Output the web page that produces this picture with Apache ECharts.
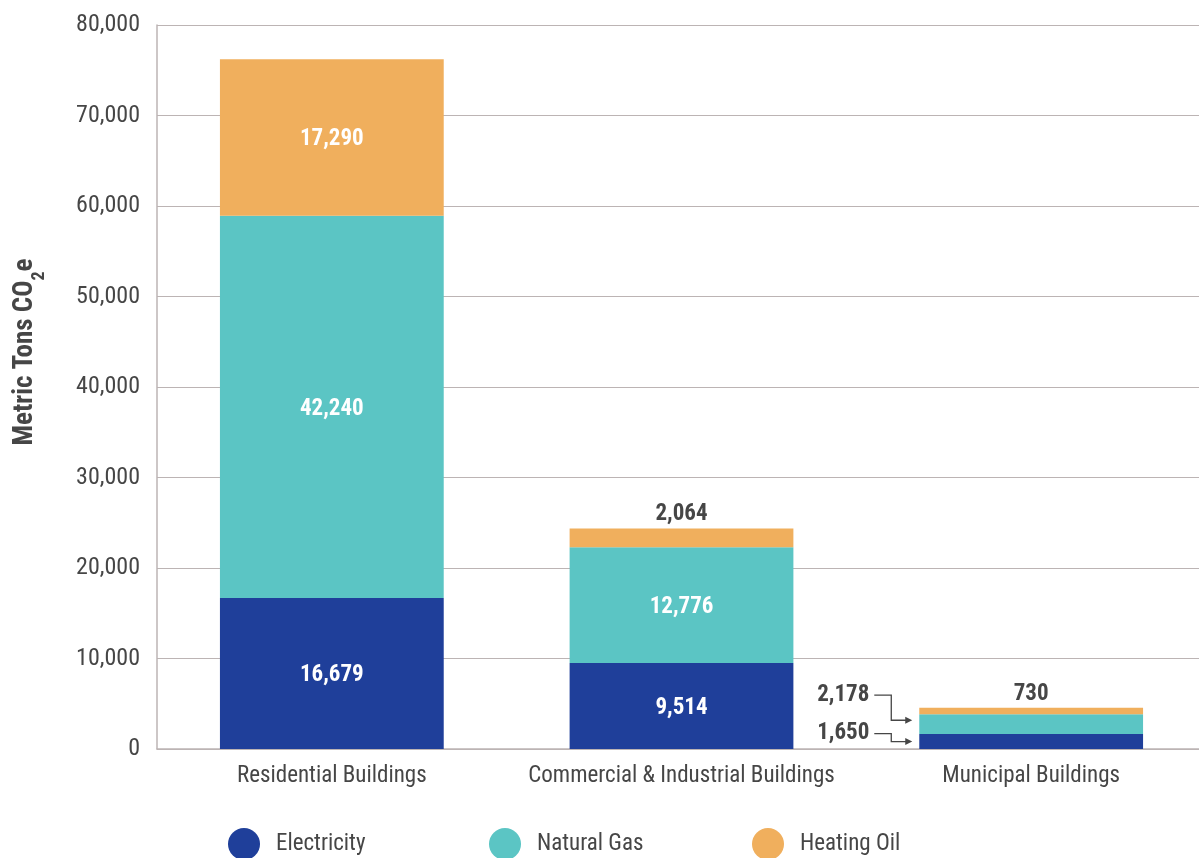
<!DOCTYPE html>
<html>
<head>
<meta charset="utf-8">
<script src="https://cdn.jsdelivr.net/npm/echarts@6/dist/echarts.min.js"></script>
<style>
  html, body { margin: 0; padding: 0; background: #fff; }
  #chart { width: 1199px; height: 858px; }
</style>
</head>
<body>
<div id="chart"></div>
<script>
// Building-sector emissions by fuel type (metric tons CO2e)
const categories = ['Residential Buildings', 'Commercial & Industrial Buildings', 'Municipal Buildings'];
const electricity = [16679, 9514, 1650];
const naturalGas = [42240, 12776, 2178];
const heatingOil = [17290, 2064, 730];
const yTicks = [0, 10000, 20000, 30000, 40000, 50000, 60000, 70000, 80000];

// Condensed faces are selected through the canvas font shorthand (stretch keyword)
const FONT = 'Roboto, "DejaVu Sans", sans-serif';
const W_NORMAL = 'condensed';
const W_BOLD = 'bold condensed';
const DARK = '#464646';
const GRID = '#bcb4b4';
const COLORS = { electricity: '#1f3f9a', gas: '#5bc5c4', oil: '#f0af5d' };

const fmt = v => v.toLocaleString('en-US');

const insideLabel = {
  show: true, position: 'inside', offset: [0, 2], color: '#fff', fontFamily: FONT,
  fontSize: 23, fontWeight: W_BOLD, formatter: p => fmt(p.value)
};

// Small bars: value shown to the left of the bar, with an elbow arrow
const LEFT_DY = { electricity: -8, gas: -29 };
const leftLabel = (dy) => ({
  position: 'left', distance: 50, offset: [0, dy], color: DARK
});

function buildData(values, overrides) {
  return values.map((v, i) => overrides[i] ? { value: v, label: overrides[i] } : v);
}

const chart = echarts.init(document.getElementById('chart'));

const option = {
  animation: false,
  grid: { left: 157, width: 1049, top: 25, bottom: 109, outerBoundsMode: 'none', containLabel: false },
  xAxis: {
    type: 'category',
    data: categories,
    axisLine: { show: true, lineStyle: { color: GRID, width: 1.5 } },
    axisTick: { show: false },
    axisLabel: { interval: 0, color: DARK, fontFamily: FONT, fontWeight: W_NORMAL, fontSize: 23, margin: 16 }
  },
  yAxis: {
    type: 'value',
    min: 0, max: 80000, interval: 10000,
    name: '{b|Metric Tons CO}{s|2}{b|e}',
    nameLocation: 'middle',
    nameGap: 118,
    nameRotate: 90,
    nameTextStyle: {
      padding: [0, 0, 0, 70],
      rich: {
        b: { fontFamily: FONT, fontSize: 27, fontWeight: W_BOLD, color: DARK },
        s: { fontFamily: FONT, fontSize: 18, fontWeight: W_BOLD, color: DARK, verticalAlign: 'bottom', padding: [0, 0, -9, 0] }
      }
    },
    axisLine: { show: true, lineStyle: { color: GRID, width: 1.5 } },
    axisTick: { show: false },
    splitLine: { lineStyle: { color: GRID, width: 1.2 } },
    axisLabel: {
      color: DARK, fontFamily: FONT, fontWeight: W_NORMAL, fontSize: 24, margin: 17,
      formatter: v => yTicks.includes(v) ? fmt(v) : ''
    }
  },
  legend: [
    { name: 'Electricity', left: 228 },
    { name: 'Natural Gas', left: 489 },
    { name: 'Heating Oil', left: 752 }
  ].map(l => ({
    data: [l.name], left: l.left, top: 828, padding: 0,
    icon: 'circle', itemWidth: 32, itemHeight: 32,
    textStyle: { color: DARK, fontFamily: FONT, fontWeight: W_NORMAL, fontSize: 23, padding: [0, 0, 0, 11] }
  })),
  series: [
    {
      name: 'Electricity', type: 'bar', stack: 'total', barWidth: '64%',
      itemStyle: { color: COLORS.electricity },
      label: insideLabel,
      data: buildData(electricity, { 2: leftLabel(LEFT_DY.electricity) })
    },
    {
      name: 'Natural Gas', type: 'bar', stack: 'total', barWidth: '64%',
      itemStyle: { color: COLORS.gas },
      label: insideLabel,
      data: buildData(naturalGas, { 2: leftLabel(LEFT_DY.gas) })
    },
    {
      name: 'Heating Oil', type: 'bar', stack: 'total', barWidth: '64%',
      itemStyle: { color: COLORS.oil },
      label: insideLabel,
      data: buildData(heatingOil, {
        1: { position: 'top', distance: 3, offset: [0, 0], color: DARK },
        2: { position: 'top', distance: 2, offset: [0, 0], color: DARK }
      })
    }
  ]
};

chart.setOption(option);

// Elbow arrows from the left-hand labels into the thin Municipal segments
function drawArrows() {
  const idx = 2;
  const cat = categories[idx];
  const xCenter = chart.convertToPixel({ gridIndex: 0 }, [cat, 0])[0];
  const xCenter2 = chart.convertToPixel({ gridIndex: 0 }, [categories[1], 0])[0];
  const band = Math.abs(xCenter2 - xCenter);
  const barLeft = xCenter - band * 0.32;

  const yOf = v => chart.convertToPixel({ gridIndex: 0 }, [cat, v])[1];
  const targets = [
    { base: 0, val: electricity[idx], frac: 0.5, labelDy: LEFT_DY.electricity },
    { base: electricity[idx], val: naturalGas[idx], frac: 0.7, labelDy: LEFT_DY.gas }
  ];

  const elements = [];
  targets.forEach(t => {
    const yMid = yOf(t.base + t.val / 2);
    const yLabel = yMid + t.labelDy;
    const yTarget = yOf(t.base + t.val * t.frac);
    const x0 = barLeft - 45, x1 = barLeft - 28, x2 = barLeft - 7;
    elements.push({
      type: 'polyline',
      shape: { points: [[x0, yLabel], [x1, yLabel], [x1, yTarget], [x2 - 5, yTarget]] },
      style: { stroke: DARK, lineWidth: 1.3, fill: null }
    });
    elements.push({
      type: 'polygon',
      shape: { points: [[x2, yTarget], [x2 - 7, yTarget - 3.5], [x2 - 7, yTarget + 3.5]] },
      style: { fill: DARK }
    });
  });
  chart.setOption({ graphic: { elements } });
}
drawArrows();
</script>
</body>
</html>
